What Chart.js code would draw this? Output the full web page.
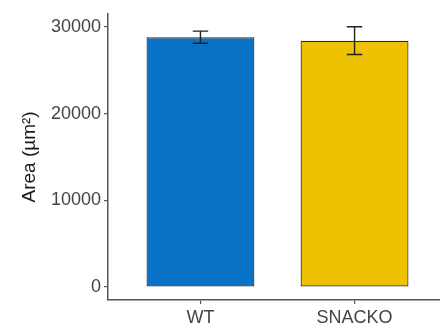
<!DOCTYPE html>
<html>
<head>
<meta charset="utf-8">
<script src="https://cdn.jsdelivr.net/npm/chart.js@4/dist/chart.umd.min.js"></script>
<style>
  html, body { margin: 0; padding: 0; background: #fff; overflow: hidden; }
  #wrap { width: 440px; height: 331px; overflow: hidden; position: relative; }
  #wrap canvas { position: absolute; left: 0; top: 0; }
</style>
</head>
<body>
<div id="wrap"><canvas id="c" width="448" height="331"></canvas></div>
<script>
// Genotype groups and mean cell area with error (µm²)
const categories = ['WT', 'SNACKO'];
const meanArea = [28800, 28400];
const errArea = [700, 1600];
const barColors = ['#0a72c6', '#eec200'];
const yTicks = [0, 10000, 20000, 30000];

const FONT = '"Liberation Sans", Arial, sans-serif';

const errorBars = {
  id: 'errorBars',
  afterDatasetsDraw(chart) {
    const xs = chart.scales.x, ys = chart.scales.y, ctx = chart.ctx;
    const half = xs.getPixelForValue(1.05) - xs.getPixelForValue(1);
    ctx.save();
    ctx.strokeStyle = '#222';
    ctx.lineWidth = 1.4;
    meanArea.forEach((m, i) => {
      const x = xs.getPixelForValue(i + 1);
      const yHi = ys.getPixelForValue(m + errArea[i]);
      const yLo = ys.getPixelForValue(m - errArea[i]);
      ctx.beginPath();
      ctx.moveTo(x, yHi); ctx.lineTo(x, yLo);
      ctx.moveTo(x - half, yHi); ctx.lineTo(x + half, yHi);
      ctx.moveTo(x - half, yLo); ctx.lineTo(x + half, yLo);
      ctx.stroke();
    });
    ctx.restore();
  }
};

new Chart(document.getElementById('c'), {
  type: 'bar',
  data: {
    datasets: [{
      data: meanArea.map((v, i) => ({ x: i + 1, y: v })),
      backgroundColor: barColors,
      borderColor: '#2a2a2a',
      borderWidth: 1.2,
      borderSkipped: false,
      barPercentage: 0.7,
      categoryPercentage: 1
    }]
  },
  options: {
    responsive: false,
    animation: false,
    layout: { padding: { top: 10, right: 1, left: 0, bottom: 0 } },
    plugins: { legend: { display: false }, tooltip: { enabled: false } },
    scales: {
      x: {
        type: 'linear',
        offset: false,
        min: 0.4,
        max: 2.6,
        afterBuildTicks(s) { s.ticks = categories.map((_, i) => ({ value: i + 1 })); },
        afterFit(s) { s.height = 31; },
        ticks: {
          callback: (v) => categories[v - 1],
          color: '#444',
          font: { family: FONT, size: 18 },
          padding: 3,
          autoSkip: false,
          maxRotation: 0
        },
        grid: { offset: false, drawOnChartArea: false, drawTicks: true, tickLength: 4, color: '#555', lineWidth: 1.2 },
        border: { display: true, color: '#555', width: 1.5 }
      },
      y: {
        min: -1500,
        max: 31500,
        afterBuildTicks(s) { s.ticks = yTicks.map(v => ({ value: v })); },
        afterFit(s) { s.width = 108; },
        ticks: {
          callback: (v) => String(v),
          color: '#444',
          font: { family: FONT, size: 18 },
          padding: 3
        },
        grid: { drawOnChartArea: false, drawTicks: true, tickLength: 4, color: '#555', lineWidth: 1.2 },
        border: { display: true, color: '#555', width: 1.5 },
        title: {
          display: true,
          text: 'Area (µm²)',
          color: '#1a1a1a',
          font: { family: FONT, size: 19 },
          padding: { top: 18, bottom: 0 }
        }
      }
    }
  },
  plugins: [errorBars]
});
</script>
</body>
</html>
